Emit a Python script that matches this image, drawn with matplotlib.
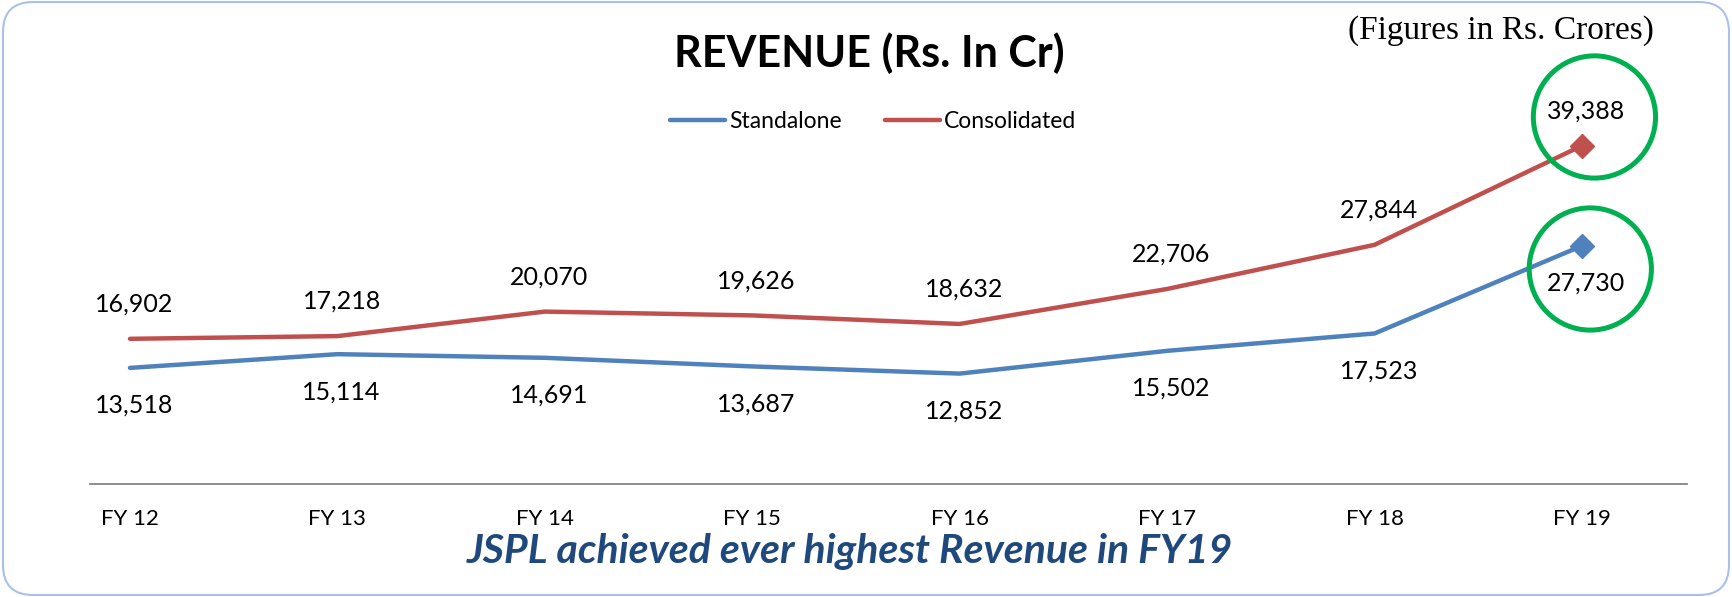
import matplotlib
matplotlib.use("Agg")
import matplotlib.pyplot as plt
from matplotlib.patches import FancyBboxPatch
from matplotlib.lines import Line2D

plt.rcParams['font.family'] = ['Lato', 'DejaVu Sans']

## Data (Rs. crores)
years = ['FY 12', 'FY 13', 'FY 14', 'FY 15', 'FY 16', 'FY 17', 'FY 18', 'FY 19']
standalone = [13518, 15114, 14691, 13687, 12852, 15502, 17523, 27730]
consolidated = [16902, 17218, 20070, 19626, 18632, 22706, 27844, 39388]

blue = '#4F81BD'
red = '#C0504D'
green = '#00B050'

W, H = 1732, 597
fig = plt.figure(figsize=(W / 100, H / 100), dpi=100)

# rounded frame round the whole chart
bg = fig.add_axes([0, 0, 1, 1])
bg.set_xlim(0, W)
bg.set_ylim(0, H)
bg.axis('off')
bg.add_patch(FancyBboxPatch((3, 2), W - 6, H - 4, boxstyle='round,pad=0,rounding_size=30',
                            facecolor='white', edgecolor='#A9C1EA', linewidth=1.5))

# plot area: FY12 sits at x=130px, FY19 at x=1582px, zero line at y=484px
step = (1582 - 130) / 7
ax = fig.add_axes([90 / W, (H - 484) / H, 1597 / W, 429.5 / H])
ax.set_xlim((90 - 130) / step, (1687 - 130) / step)
ax.set_ylim(0, 50000)
ax.patch.set_alpha(0)

x = list(range(len(years)))
ax.plot(x, standalone, color=blue, lw=3.2, marker='D', markevery=[len(x) - 1], ms=12,
        solid_capstyle='round')
ax.plot(x, consolidated, color=red, lw=3.2, marker='D', markevery=[len(x) - 1], ms=12,
        solid_capstyle='round')

for i in x:
    ax.annotate(f'{consolidated[i]:,}', (i, consolidated[i]), xytext=(3, 25), textcoords='offset points',
                ha='center', va='center', fontsize=18)
    ax.annotate(f'{standalone[i]:,}', (i, standalone[i]), xytext=(3, -27), textcoords='offset points',
                ha='center', va='center', fontsize=18)

# green highlight circles round FY19
last = len(x) - 1
ax.scatter([last + 0.06], [consolidated[last] + 3340], s=88 ** 2, facecolors='none',
           edgecolors=green, linewidths=3.6, clip_on=False, zorder=5)
ax.scatter([last + 0.04], [standalone[last] - 2700], s=88 ** 2, facecolors='none',
           edgecolors=green, linewidths=3.6, clip_on=False, zorder=5)

ax.set_xticks(x)
ax.set_xticklabels(years, fontsize=16)
ax.tick_params(axis='x', length=0, pad=18)
ax.set_yticks([])
for s in ['top', 'left', 'right']:
    ax.spines[s].set_visible(False)
ax.spines['bottom'].set_color('#868686')
ax.spines['bottom'].set_linewidth(1.3)

handles = [Line2D([], [], color=blue, lw=3.2, solid_capstyle='round'),
           Line2D([], [], color=red, lw=3.2, solid_capstyle='round')]
fig.legend(handles, ['Standalone', 'Consolidated'], loc='center', bbox_to_anchor=(873 / W, 1 - 122 / H),
           ncol=2, frameon=False, fontsize=16.5, handlelength=2.4, handletextpad=0.15, columnspacing=1.9)

fig.text(869 / W, 1 - 53 / H, 'REVENUE (Rs. In Cr)', ha='center', va='center',
         fontsize=31, fontweight='bold')
fig.text(1501 / W, 1 - 31 / H, '(Figures in Rs. Crores)', ha='center', va='center',
         fontsize=24, family=['Liberation Serif', 'DejaVu Serif'])
fig.text(850 / W, 1 - 551 / H, 'JSPL achieved ever highest Revenue in FY19', ha='center', va='center',
         fontsize=29.5, fontweight='bold', style='italic', color='#1F497D')

fig.savefig('out.png', dpi=100)
